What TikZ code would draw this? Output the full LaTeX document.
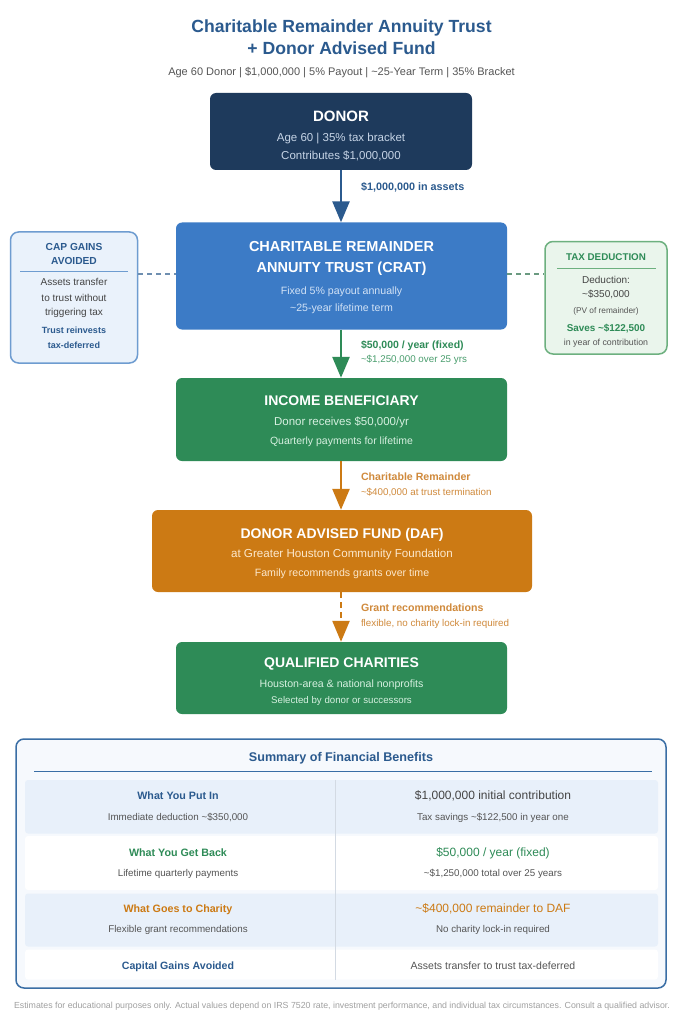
\documentclass[tikz,border=0pt]{standalone}
\usepackage{fontspec}
\setmainfont{Liberation Sans}
\usetikzlibrary{arrows.meta}
\definecolor{titleblue}{HTML}{2B5A8E}
\definecolor{navy}{HTML}{1E3A5C}
\definecolor{navysub}{HTML}{C6D4E6}
\definecolor{cratblue}{HTML}{3C7BC6}
\definecolor{cratsub}{HTML}{D2E2F6}
\definecolor{cgreen}{HTML}{2E8B57}
\definecolor{greensub}{HTML}{D6F0E0}
\definecolor{corange}{HTML}{CC7A14}
\definecolor{orangesub}{HTML}{FCE8CC}
\definecolor{orangelbl}{HTML}{D08A3C}
\definecolor{greenlbl}{HTML}{4A9E6E}
\definecolor{capfill}{HTML}{EAF2FB}
\definecolor{capborder}{HTML}{6E9CD0}
\definecolor{taxfill}{HTML}{EAF5EC}
\definecolor{taxborder}{HTML}{6DB07F}
\definecolor{dashblue}{HTML}{6F8FB0}
\definecolor{dashgreen}{HTML}{6A9A80}
\definecolor{darktext}{HTML}{444444}
\definecolor{midtext}{HTML}{555555}
\definecolor{sumframe}{HTML}{3A6EA5}
\definecolor{sumfill}{HTML}{F6F9FD}
\definecolor{rowfill}{HTML}{E8F0FA}
\definecolor{divgrey}{HTML}{D3DAE3}
\definecolor{foot}{HTML}{A0A0A0}
\newcommand{\fsz}[1]{\fontsize{#1}{#1}\selectfont}
\tikzset{
  box/.style={rectangle, rounded corners=6pt, inner sep=0pt, draw=none},
  sidebox/.style={rectangle, rounded corners=8pt, inner sep=0pt, line width=1.5pt},
  txt/.style={anchor=base, inner sep=0pt, outer sep=0pt},
  arr/.style={line width=2.6pt, -{Triangle[length=21pt,width=17pt]}},
  sidedash/.style={line width=2pt, dash pattern=on 5pt off 4pt},
  row/.style={rounded corners=3pt, draw=none},
}
\begin{document}
\begin{tikzpicture}[x=1pt,y=-1pt]
\fill[white] (0,0) rectangle (683,1024);
\useasboundingbox (0,0) rectangle (683,1024);

% title
\node[txt, font=\bfseries\fsz{17.6}, text=titleblue] (title1) at (341.5,33) {Charitable Remainder Annuity Trust};
\node[txt, font=\bfseries\fsz{17.6}, text=titleblue] (title2) at (341.5,55) {+ Donor Advised Fund};
\node[txt, font=\fsz{11}, text=midtext] (subtitle) at (341.5,76) {Age 60 Donor | \$1,000,000 | 5\% Payout | \textasciitilde25-Year Term | 35\% Bracket};

% main boxes
\node[box, fill=navy, minimum width=262pt, minimum height=77pt] (donor) at (341,131.5) {};
\node[box, fill=cratblue, minimum width=331pt, minimum height=107pt] (crat) at (341.5,276) {};
\node[box, fill=cgreen, minimum width=331pt, minimum height=83pt] (income) at (341.5,419.5) {};
\node[box, fill=corange, minimum width=380pt, minimum height=82pt] (daf) at (342,551) {};
\node[box, fill=cgreen, minimum width=331pt, minimum height=72pt] (qc) at (341.5,678) {};
\node[sidebox, draw=capborder, fill=capfill, minimum width=127pt, minimum height=131pt] (cap) at (74,297.5) {};
\node[sidebox, draw=taxborder, fill=taxfill, minimum width=122pt, minimum height=112.5pt] (tax) at (606,297.75) {};

% donor text
\node[txt, font=\bfseries\fsz{15}, text=white] (d1) at (341,121.7) {DONOR};
\node[txt, font=\fsz{11.5}, text=navysub] (d2) at (341,141.7) {Age 60 | 35\% tax bracket};
\node[txt, font=\fsz{11.5}, text=navysub] (d3) at (341,159.3) {Contributes \$1,000,000};

% crat text
\node[txt, font=\bfseries\fsz{14.5}, text=white] (c1) at (341.5,251.7) {CHARITABLE REMAINDER};
\node[txt, font=\bfseries\fsz{14.5}, text=white] (c2) at (341.5,272) {ANNUITY TRUST (CRAT)};
\node[txt, font=\fsz{10.6}, text=cratsub] (c3) at (341.5,294) {Fixed 5\% payout annually};
\node[txt, font=\fsz{10.6}, text=cratsub] (c4) at (341.5,311.7) {\textasciitilde25-year lifetime term};

% income text
\node[txt, font=\bfseries\fsz{14}, text=white] (i1) at (341.5,405) {INCOME BENEFICIARY};
\node[txt, font=\fsz{11.5}, text=greensub] (i2) at (341.5,425) {Donor receives \$50,000/yr};
\node[txt, font=\fsz{10.5}, text=greensub] (i3) at (341.5,444) {Quarterly payments for lifetime};

% daf text
\node[txt, font=\bfseries\fsz{14}, text=white] (f1) at (342,538.3) {DONOR ADVISED FUND (DAF)};
\node[txt, font=\fsz{11.6}, text=orangesub] (f2) at (342,557.3) {at Greater Houston Community Foundation};
\node[txt, font=\fsz{10.6}, text=orangesub] (f3) at (342,576.7) {Family recommends grants over time};

% qc text
\node[txt, font=\bfseries\fsz{14}, text=white] (q1) at (341.5,667.7) {QUALIFIED CHARITIES};
\node[txt, font=\fsz{10.6}, text=greensub] (q2) at (341.5,687.3) {Houston-area \& national nonprofits};
\node[txt, font=\fsz{9.7}, text=greensub] (q3) at (341.5,703.3) {Selected by donor or successors};

% cap gains box text
\node[txt, font=\bfseries\fsz{10.2}, text=titleblue] (g1) at (74,250.7) {CAP GAINS};
\node[txt, font=\bfseries\fsz{10.2}, text=titleblue] (g2) at (74,264.5) {AVOIDED};
\coordinate (gl1) at (20,271);
\coordinate (gl2) at (128,271);
\draw[capborder, line width=1pt] (gl1) -- (gl2);
\node[txt, font=\fsz{10}, text=darktext] (g3) at (74,285.7) {Assets transfer};
\node[txt, font=\fsz{10}, text=darktext] (g4) at (74,301.2) {to trust without};
\node[txt, font=\fsz{10}, text=darktext] (g5) at (74,315.7) {triggering tax};
\node[txt, font=\bfseries\fsz{9}, text=titleblue] (g6) at (74,333) {Trust reinvests};
\node[txt, font=\bfseries\fsz{9}, text=titleblue] (g7) at (74,348) {tax-deferred};

% tax deduction box text
\node[txt, font=\bfseries\fsz{9.8}, text=cgreen] (x1) at (606,260.7) {TAX DEDUCTION};
\coordinate (xl1) at (557,268.3);
\coordinate (xl2) at (656,268.3);
\draw[taxborder, line width=1pt] (xl1) -- (xl2);
\node[txt, font=\fsz{10}, text=darktext] (x2) at (606,283.3) {Deduction:};
\node[txt, font=\fsz{10}, text=darktext] (x3) at (606,297.7) {\textasciitilde\$350,000};
\node[txt, font=\fsz{8.3}, text=midtext] (x4) at (606,313.3) {(PV of remainder)};
\node[txt, font=\bfseries\fsz{9.9}, text=cgreen] (x5) at (606,331) {Saves \textasciitilde\$122,500};
\node[txt, font=\fsz{8.8}, text=midtext] (x6) at (606,345) {in year of contribution};

% side dashed connectors
\coordinate (lvl) at (0,274.3);
\draw[sidedash, dashblue] (cap.east |- lvl) -- (crat.west |- lvl);
\draw[sidedash, dashgreen] (crat.east |- lvl) -- (tax.west |- lvl);

% arrows
\draw[arr, titleblue] (donor.south) -- (donor.south |- crat.north);
\draw[arr, cgreen] (crat.south -| donor.south) -- (income.north -| donor.south);
\draw[arr, corange] (income.south -| donor.south) -- (daf.north -| donor.south);
\draw[arr, corange, line width=2.4pt, dash pattern=on 6pt off 4pt] (daf.south -| donor.south) -- (qc.north -| donor.south);

% arrow labels
\node[txt, anchor=base west, font=\bfseries\fsz{10.8}, text=titleblue] (a1) at (361,190.5) {\$1,000,000 in assets};
\node[txt, anchor=base west, font=\bfseries\fsz{10.5}, text=cgreen] (a2) at (361,348.3) {\$50,000 / year (fixed)};
\node[txt, anchor=base west, font=\fsz{9.8}, text=greenlbl] (a3) at (361,362.7) {\textasciitilde\$1,250,000 over 25 yrs};
\node[txt, anchor=base west, font=\bfseries\fsz{10.6}, text=orangelbl] (a4) at (361,480) {Charitable Remainder};
\node[txt, anchor=base west, font=\fsz{9.8}, text=orangelbl] (a5) at (361,495) {\textasciitilde\$400,000 at trust termination};
\node[txt, anchor=base west, font=\bfseries\fsz{10.6}, text=orangelbl] (a6) at (361,611.7) {Grant recommendations};
\node[txt, anchor=base west, font=\fsz{9.8}, text=orangelbl] (a7) at (361,626.7) {flexible, no charity lock-in required};

% summary
\node[sidebox, draw=sumframe, fill=sumfill, minimum width=650pt, minimum height=249pt] (sum) at (341,863.5) {};
\node[txt, font=\bfseries\fsz{12.6}, text=titleblue] (s0) at (341,761.7) {Summary of Financial Benefits};
\coordinate (sl1) at (34,771.5);
\coordinate (sl2) at (652,771.5);
\draw[sumframe, line width=1pt] (sl1) -- (sl2);
\node[row, fill=rowfill, minimum width=633pt, minimum height=53.5pt] (r1) at (341.5,806.75) {};
\node[row, fill=white, minimum width=633pt, minimum height=54pt] (r2) at (341.5,863) {};
\node[row, fill=rowfill, minimum width=633pt, minimum height=53pt] (r3) at (341.5,920) {};
\node[row, fill=white, minimum width=633pt, minimum height=30pt] (r4) at (341.5,964.5) {};
\coordinate (dv) at (335,0);
\draw[divgrey, line width=1pt] (dv |- r1.north) -- (dv |- r4.south);

\node[txt, font=\bfseries\fsz{10.7}, text=titleblue] (s1a) at (178,799.3) {What You Put In};
\node[txt, font=\fsz{9.8}, text=midtext] (s1b) at (178,820) {Immediate deduction \textasciitilde\$350,000};
\node[txt, font=\fsz{12}, text=darktext] (s1c) at (493,799.3) {\$1,000,000 initial contribution};
\node[txt, font=\fsz{9.8}, text=midtext] (s1d) at (493,820) {Tax savings \textasciitilde\$122,500 in year one};

\node[txt, font=\bfseries\fsz{10.7}, text=cgreen] (s2a) at (178,856) {What You Get Back};
\node[txt, font=\fsz{9.8}, text=midtext] (s2b) at (178,876.7) {Lifetime quarterly payments};
\node[txt, font=\fsz{12}, text=cgreen] (s2c) at (493,856) {\$50,000 / year (fixed)};
\node[txt, font=\fsz{9.8}, text=midtext] (s2d) at (493,876.7) {\textasciitilde\$1,250,000 total over 25 years};

\node[txt, font=\bfseries\fsz{10.7}, text=corange] (s3a) at (178,912.3) {What Goes to Charity};
\node[txt, font=\fsz{9.8}, text=midtext] (s3b) at (178,932.7) {Flexible grant recommendations};
\node[txt, font=\fsz{12}, text=corange] (s3c) at (493,912.3) {\textasciitilde\$400,000 remainder to DAF};
\node[txt, font=\fsz{9.8}, text=midtext] (s3d) at (493,932.7) {No charity lock-in required};

\node[txt, font=\bfseries\fsz{10.6}, text=titleblue] (s4a) at (178,969) {Capital Gains Avoided};
\node[txt, font=\fsz{10.5}, text=midtext] (s4b) at (493,969) {Assets transfer to trust tax-deferred};

% footer
\node[txt, font=\fsz{8.8}, text=foot] (foot) at (342,1008.3) {Estimates for educational purposes only. Actual values depend on IRS 7520 rate, investment performance, and individual tax circumstances. Consult a qualified advisor.};
\end{tikzpicture}
\end{document}
